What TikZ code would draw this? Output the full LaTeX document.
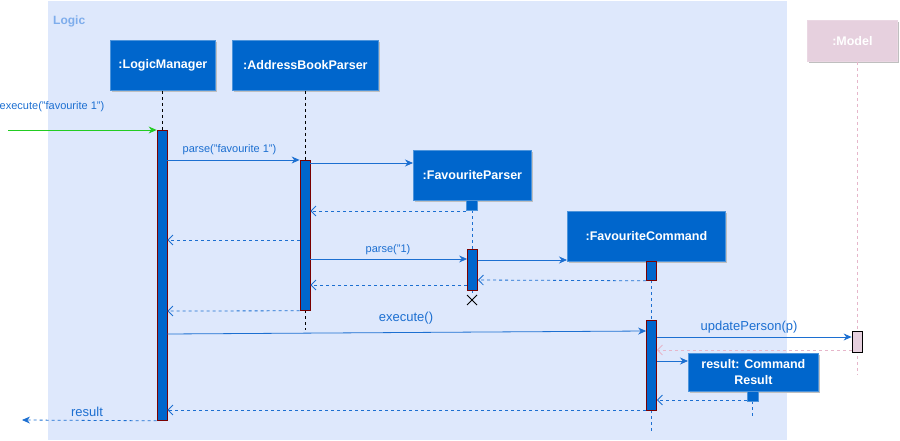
\documentclass[tikz,border=0pt]{standalone}
\usepackage{fontspec}
\setmainfont{Liberation Sans}
\usetikzlibrary{arrows.meta,shadows,calc}
\definecolor{boxblue}{HTML}{0066CC}
\definecolor{boxedge}{HTML}{4D94DB}
\definecolor{framefill}{HTML}{DEE8FC}
\definecolor{framelabel}{HTML}{7EADEC}
\definecolor{msgblue}{HTML}{1C6FD1}
\definecolor{actred}{HTML}{7A0000}
\definecolor{modelfill}{HTML}{E6D0DE}
\definecolor{modelline}{HTML}{E6B6CA}
\definecolor{execgreen}{HTML}{22CC22}
\tikzset{
  objbox/.style={rectangle, fill=boxblue, draw=boxedge, line width=0.8pt, text=white,
    font=\bfseries\fontsize{12.5}{15}\selectfont, inner sep=0pt, anchor=north west,
    drop shadow={shadow xshift=2pt, shadow yshift=-2pt, fill=black!25, opacity=1}},
  actbar/.style={rectangle, fill=boxblue, draw=actred, line width=0.8pt, inner sep=0pt,
    minimum width=10pt, anchor=north},
  msg/.style={draw=msgblue, line width=0.8pt, -{Stealth[length=8pt,width=7pt]}},
  ret/.style={draw=msgblue, line width=0.8pt, dash pattern=on 3pt off 3pt,
    -{Straight Barb[length=5pt,width=10pt]}},
  lifeblack/.style={draw=black, line width=0.8pt, dash pattern=on 3pt off 3pt},
  lifeblue/.style={draw=msgblue, line width=0.8pt, dash pattern=on 3pt off 3pt},
  lbl/.style={text=msgblue, font=\fontsize{11}{13}\selectfont, inner sep=0pt},
  lblbig/.style={text=msgblue, font=\fontsize{13}{15}\selectfont, inner sep=0pt},
}
\begin{document}
\begin{tikzpicture}[x=1pt,y=-1pt]
\useasboundingbox (0,0) rectangle (900,441);
% frame
\fill[framefill] (48,1) rectangle (787,440);
\node[text=framelabel, font=\bfseries\fontsize{12}{14}\selectfont, anchor=west, inner sep=0pt] (logiclbl) at (53,21) {Logic};

% objects
\node[objbox, minimum width=105pt, minimum height=50pt] (lm) at (110,40) {:LogicManager};
\node[objbox, minimum width=146pt, minimum height=50pt] (abp) at (232,40) {:AddressBookParser};
\node[objbox, minimum width=118pt, minimum height=50pt] (fp) at (413,150) {:FavouriteParser};
\node[objbox, minimum width=158pt, minimum height=50pt] (fc) at (567,211) {:FavouriteCommand};
\node[objbox, minimum width=130pt, minimum height=38pt, align=center,
  font=\bfseries\fontsize{12.5}{16}\selectfont] (res) at (688,353) {result: Command\\Result};
\node[objbox, fill=modelfill, draw=modelfill!85!white, minimum width=90pt, minimum height=41pt] (model) at (807,20) {:Model};

% lifelines
\draw[lifeblack] (lm.south -| 162,0) -- (162,130);
\draw[lifeblack] (abp.south -| 305,0) -- (305,160);
\draw[lifeblack] (305,310) -- (305,330);
\draw[lifeblue] (472,210) -- (472,249);
\draw[lifeblue] (472,290) -- (472,296);
\draw[lifeblue] (651.5,280) -- (651.5,320);
\draw[lifeblue] (651.5,410) -- (651.5,432);
\draw[lifeblue] (752.5,401) -- (752.5,419);
\draw[draw=modelline, line width=0.8pt, dash pattern=on 3pt off 3pt] (model.south -| 857,0) -- (857,375);

% activations
\node[actbar, minimum height=290pt] (alm) at (162,130) {};
\node[actbar, minimum height=150pt] (aabp) at (305,160) {};
\node[actbar, fill=boxblue, draw=boxedge, minimum width=11pt, minimum height=10pt] (afp0) at (472,200) {};
\node[actbar, minimum height=41pt] (afp) at (472.5,249) {};
\node[actbar, minimum height=19pt] (afc0) at (651.5,261) {};
\node[actbar, minimum height=90pt] (afc) at (651.5,320) {};
\node[actbar, fill=boxblue, draw=boxedge, minimum width=11pt, minimum height=10pt] (ares) at (752.5,391) {};
\node[actbar, fill=modelfill, draw=black, minimum height=21pt] (amodel) at (857,331) {};

% destroy mark
\coordinate (xm) at (472,300);
\draw[black, line width=0.9pt] ($(xm)+(-5,-5)$) -- ($(xm)+(5,5)$) ($(xm)+(-5,5)$) -- ($(xm)+(5,-5)$);

% messages
\coordinate (start) at (8,130);
\draw[draw=execgreen, line width=0.8pt, -{Stealth[length=8pt,width=7pt]}] (start) -- (alm.north west);
\node[lbl] (l1) at (52,107) {execute("favourite 1")};

\draw[msg] (alm.east |- 0,160) -- (aabp.west |- 0,160);
\node[lbl] (l2) at (229.5,150) {parse("favourite 1")};

\draw[msg] (aabp.east |- 0,163) -- (fp.west |- 0,163);
\draw[ret] (afp0.south west |- 0,211) -- (aabp.east |- 0,211);
\draw[ret] (aabp.west |- 0,240) -- (alm.east |- 0,240);

\draw[msg] (aabp.east |- 0,259) -- (afp.west |- 0,259);
\node[lbl] (l3) at (388,250) {parse("1)};
\draw[msg] (afp.east |- 0,260) -- (fc.west |- 0,260);
\draw[ret] (afc0.south west) -- (afp.east |- 0,280);
\draw[ret] (afp.west |- 0,285) -- (aabp.east |- 0,285);
\draw[ret] (aabp.south west) -- (alm.east |- 0,311);

\draw[msg] (alm.east |- 0,334) -- (afc.west |- 0,331);
\node[lblbig] (l4) at (406,318) {execute()};

\draw[msg] (afc.east |- 0,337) -- (amodel.west |- 0,337);
\node[lblbig] (l5) at (749,327) {updatePerson(p)};
\draw[draw=modelline, line width=0.8pt, dash pattern=on 3pt off 3pt, -{Straight Barb[length=5pt,width=10pt]}] (amodel.west |- 0,350) -- (afc.east |- 0,350);

\draw[msg] (afc.east |- 0,361) -- (res.west |- 0,361);
\draw[ret] (ares.south west |- 0,400) -- (afc.east |- 0,400);

\draw[ret] (afc.west |- 0,410) -- (alm.east |- 0,410);

\coordinate (endp) at (22,420);
\draw[draw=msgblue, line width=0.8pt, dash pattern=on 3pt off 3pt, -{Stealth[length=8pt,width=7pt]}] (alm.south west) -- (endp);
\node[lblbig] (l6) at (87,412) {result};
\end{tikzpicture}
\end{document}
